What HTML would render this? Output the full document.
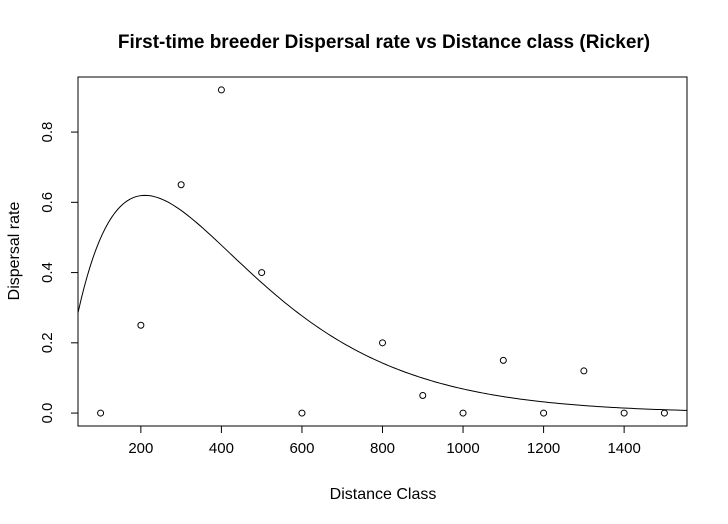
<!DOCTYPE html>
<html><head><meta charset="utf-8"><style>
body{margin:0;background:#fff}
svg{display:block;font-family:"Liberation Sans",Arial,sans-serif}
</style></head><body>
<svg id="c" width="728" height="524" viewBox="0 0 728 524">
<rect width="728" height="524" fill="#fff"/>
<text x="384" y="48" text-anchor="middle" font-size="19" font-weight="bold">First-time breeder Dispersal rate vs Distance class (Ricker)</text>
<text x="383" y="499" text-anchor="middle" font-size="16">Distance Class</text>
<text transform="translate(19,251) rotate(-90)" text-anchor="middle" font-size="16">Dispersal rate</text>
<rect x="78" y="77" width="609" height="349" fill="none" stroke="#000"/>
<g id="ax"></g><g id="marks"></g>
</svg>
<script>
const xVals=[100,200,300,400,500,600,800,900,1000,1100,1200,1300,1400,1500];
const yVals=[0,0.25,0.65,0.92,0.40,0,0.20,0.05,0,0.15,0,0.12,0,0];
const xTicks=[200,400,600,800,1000,1200,1400];
const yTicks=[0,0.2,0.4,0.6,0.8];
const yTickLabels=["0.0","0.2","0.4","0.6","0.8"];
const rickerA=0.00802, rickerB=0.00476;
const X0=43.9,X1=1556.1,Y0=-0.0368,Y1=0.9568;
const sx=v=>78+(v-X0)/(X1-X0)*609;
const sy=v=>426-(v-Y0)/(Y1-Y0)*349;
const NS="http://www.w3.org/2000/svg";
const ax=document.getElementById('ax'),mk=document.getElementById('marks');
function el(t,a,p){const e=document.createElementNS(NS,t);for(const k in a)e.setAttribute(k,a[k]);p.appendChild(e);return e;}
el('line',{x1:sx(xTicks[0]),x2:sx(xTicks[xTicks.length-1]),y1:426,y2:426,stroke:'#000'},ax);
xTicks.forEach(t=>{const x=sx(t);
 el('line',{x1:x,x2:x,y1:426,y2:433,stroke:'#000'},ax);
 const tx=el('text',{x:x,y:453,'text-anchor':'middle','font-size':15},ax);tx.textContent=t;
 
 });
el('line',{x1:78,x2:78,y1:sy(yTicks[0]),y2:sy(yTicks[yTicks.length-1]),stroke:'#000'},ax);
yTicks.forEach((t,i)=>{const y=sy(t);
 el('line',{x1:71,x2:78,y1:y,y2:y,stroke:'#000'},ax);
 const tx=el('text',{transform:`translate(52,${y}) rotate(-90)`,'text-anchor':'middle','font-size':15},ax);tx.textContent=yTickLabels[i];
 
 });
let d='';for(let i=0;i<=200;i++){const x=X0+(X1-X0)*i/200;const y=rickerA*x*Math.exp(-rickerB*x);d+=(i?'L':'M')+sx(x).toFixed(2)+','+sy(y).toFixed(2);}
const p=el('path',{d:d,fill:'none',stroke:'#000','stroke-width':1},mk);


xVals.forEach((v,i)=>{const c=el('circle',{cx:sx(v),cy:sy(yVals[i]),r:3,fill:'none',stroke:'#000'},mk);
 
 });
</script>
</body></html>
